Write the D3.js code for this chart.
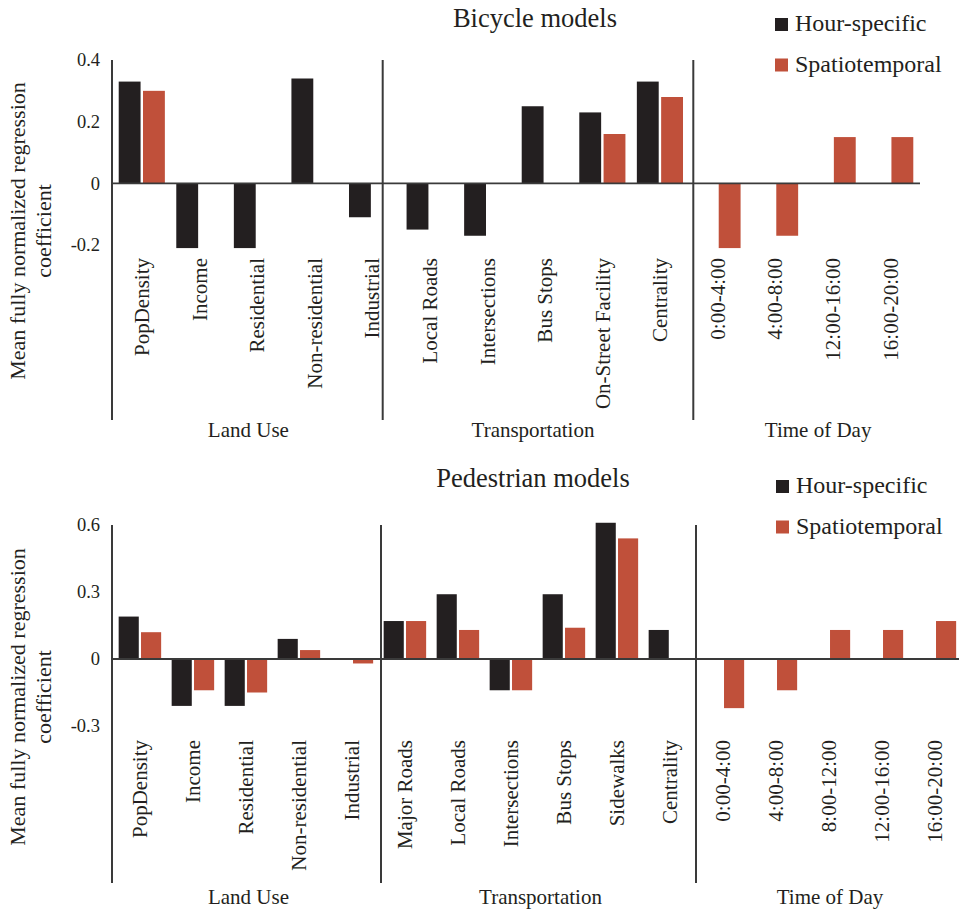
<!DOCTYPE html>
<html>
<head>
<meta charset="utf-8">
<script src="https://cdn.jsdelivr.net/npm/d3@7"></script>
<style>
  html, body { margin: 0; padding: 0; background: #ffffff; }
  svg { display: block; }
  text { font-family: "Liberation Serif", "Times New Roman", serif; fill: #231f20; }
</style>
</head>
<body>
<script>
// ---- Bicycle models ----
const bikeCategories = ["PopDensity", "Income", "Residential", "Non-residential", "Industrial",
  "Local Roads", "Intersections", "Bus Stops", "On-Street Facility", "Centrality",
  "0:00-4:00", "4:00-8:00", "12:00-16:00", "16:00-20:00"];
const bikeHourSpecific   = [0.33, -0.21, -0.21, 0.34, -0.11, -0.15, -0.17, 0.25, 0.23, 0.33, null, null, null, null];
const bikeSpatiotemporal = [0.30, null, null, null, null, null, null, null, 0.16, 0.28, -0.21, -0.17, 0.15, 0.15];
const bikeGroups = [
  { name: "Land Use", count: 5 },
  { name: "Transportation", count: 5 },
  { name: "Time of Day", count: 4 }
];
const bikeTicks = [0.4, 0.2, 0, -0.2];
const bikeTickLabels = ["0.4", "0.2", "0", "-0.2"];

// ---- Pedestrian models ----
const pedCategories = ["PopDensity", "Income", "Residential", "Non-residential", "Industrial",
  "Major Roads", "Local Roads", "Intersections", "Bus Stops", "Sidewalks", "Centrality",
  "0:00-4:00", "4:00-8:00", "8:00-12:00", "12:00-16:00", "16:00-20:00"];
const pedHourSpecific   = [0.19, -0.21, -0.21, 0.09, null, 0.17, 0.29, -0.14, 0.29, 0.61, 0.13, null, null, null, null, null];
const pedSpatiotemporal = [0.12, -0.14, -0.15, 0.04, -0.02, 0.17, 0.13, -0.14, 0.14, 0.54, null, -0.22, -0.14, 0.13, 0.13, 0.17];
const pedGroups = [
  { name: "Land Use", count: 5 },
  { name: "Transportation", count: 6 },
  { name: "Time of Day", count: 5 }
];
const pedTicks = [0.6, 0.3, 0, -0.3];
const pedTickLabels = ["0.6", "0.3", "0", "-0.3"];

const seriesNames = ["Hour-specific", "Spatiotemporal"];
const seriesColors = ["#231f20", "#c0503a"];
const yTitleLines = ["Mean fully normalized regression", "coefficient"];

const W = 959, H = 914;
const svg = d3.select("body").append("svg").attr("width", W).attr("height", H);
const lineColor = "#3a3a3a";

function drawPanel(cfg) {
  const g = svg.append("g");

  const x0 = d3.scaleBand().domain(cfg.categories).range(cfg.xRange).paddingInner(0).paddingOuter(0);
  const x1 = d3.scaleBand().domain(seriesNames).range([0, x0.bandwidth()])
    .paddingInner(0.1).paddingOuter(0.235);
  const y = d3.scaleLinear().domain(cfg.yDomain).range(cfg.yRange);

  // Title
  g.append("text").attr("x", cfg.titleX).attr("y", cfg.titleY)
    .attr("text-anchor", "middle").style("font-size", "26.5px").text(cfg.title);

  // Legend
  const leg = g.append("g");
  seriesNames.forEach((s, i) => {
    const ly = cfg.legendY + i * 40.5;
    leg.append("rect").attr("x", cfg.legendX).attr("y", ly - 13).attr("width", 13).attr("height", 13)
      .attr("fill", seriesColors[i]);
    leg.append("text").attr("x", cfg.legendX + 20).attr("y", ly)
      .style("font-size", "24px").text(s);
  });

  // Bars
  const series = [cfg.hour, cfg.spatio];
  series.forEach((vals, si) => {
    g.append("g").selectAll("rect")
      .data(cfg.categories.map((c, i) => ({ c, v: vals[i] })).filter(d => d.v !== null))
      .join("rect")
      .attr("x", d => x0(d.c) + x1(seriesNames[si]))
      .attr("width", x1.bandwidth())
      .attr("y", d => y(Math.max(0, d.v)))
      .attr("height", d => Math.abs(y(d.v) - y(0)))
      .attr("fill", seriesColors[si]);
  });

  // Zero line
  g.append("line").attr("x1", cfg.axisX).attr("x2", cfg.zeroEnd)
    .attr("y1", y(0)).attr("y2", y(0))
    .attr("stroke", lineColor).attr("stroke-width", 1.8);

  // Vertical axis line and group dividers
  const yTop = y(cfg.yDomain[1]);
  g.append("line").attr("x1", cfg.axisX).attr("x2", cfg.axisX)
    .attr("y1", yTop).attr("y2", cfg.frameBottom)
    .attr("stroke", lineColor).attr("stroke-width", 2);
  cfg.dividers.forEach(dx => {
    g.append("line").attr("x1", dx).attr("x2", dx)
      .attr("y1", yTop).attr("y2", cfg.frameBottom)
      .attr("stroke", lineColor).attr("stroke-width", 2);
  });

  // Y tick labels
  g.append("g").selectAll("text").data(cfg.ticks).join("text")
    .attr("x", cfg.axisX - 12).attr("y", d => y(d)).attr("dy", "0.35em")
    .attr("text-anchor", "end").style("font-size", "18.5px")
    .text((d, i) => cfg.tickLabels[i]);

  // Category labels (rotated)
  g.append("g").selectAll("text").data(cfg.categories).join("text")
    .attr("transform", d => `translate(${x0(d) + x0.bandwidth() / 2},${cfg.catLabelTop}) rotate(-90)`)
    .attr("text-anchor", "end").attr("dy", "0.35em")
    .style("font-size", "21px").text(d => d);

  // Group labels
  const bounds = [cfg.axisX, ...cfg.dividers, cfg.groupEnd];
  g.append("g").selectAll("text").data(cfg.groups).join("text")
    .attr("x", (d, i) => (bounds[i] + bounds[i + 1]) / 2 + (cfg.groupShift[i] || 0))
    .attr("y", cfg.groupY)
    .attr("text-anchor", "middle").style("font-size", "21px").text(d => d.name);

  // Y axis title
  const yt = g.append("text")
    .attr("transform", `translate(0,${cfg.yTitleCenter}) rotate(-90)`)
    .attr("text-anchor", "middle").style("font-size", "22px");
  yt.append("tspan").attr("x", 0).attr("y", 25).text(yTitleLines[0]);
  yt.append("tspan").attr("x", 0).attr("y", 51).text(yTitleLines[1]);
}

drawPanel({
  title: "Bicycle models", titleX: 535, titleY: 27,
  legendX: 775, legendY: 31,
  categories: bikeCategories, hour: bikeHourSpecific, spatio: bikeSpatiotemporal,
  groups: bikeGroups, ticks: bikeTicks, tickLabels: bikeTickLabels,
  xRange: [113, 919], yDomain: [-0.2, 0.4], yRange: [245, 60],
  axisX: 112, zeroEnd: 920, frameBottom: 420,
  dividers: [382.7, 693.3], groupEnd: 943, groupShift: [1, -5, 0],
  catLabelTop: 258, groupY: 437, yTitleCenter: 231
});

drawPanel({
  title: "Pedestrian models", titleX: 533, titleY: 487,
  legendX: 776, legendY: 493,
  categories: pedCategories, hour: pedHourSpecific, spatio: pedSpatiotemporal,
  groups: pedGroups, ticks: pedTicks, tickLabels: pedTickLabels,
  xRange: [113.4, 961.4], yDomain: [-0.3, 0.6], yRange: [726, 525],
  axisX: 112, zeroEnd: 959, frameBottom: 883,
  dividers: [381, 696], groupEnd: 964, groupShift: [2, 2, 0],
  catLabelTop: 740, groupY: 904, yTitleCenter: 697
});
</script>
</body>
</html>
